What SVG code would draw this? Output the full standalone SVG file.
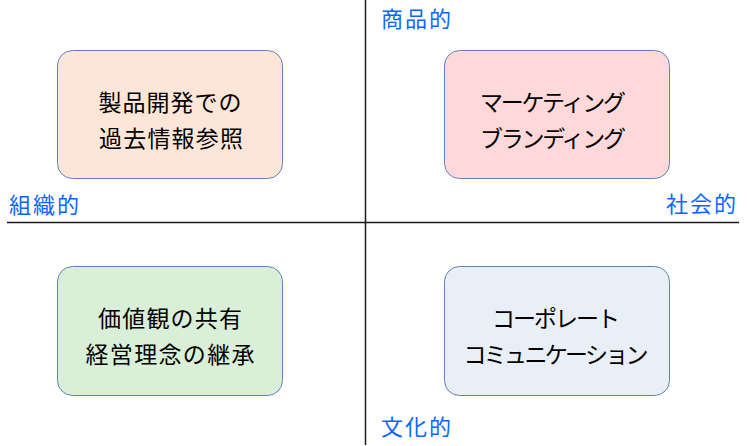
<svg xmlns="http://www.w3.org/2000/svg" width="747" height="446" viewBox="0 0 747 446">
<style>
.box{stroke:#5F82B8;stroke-width:1}
.t{font-family:"Noto Sans CJK JP","Noto Sans",sans-serif;font-size:23px;fill:#000;text-anchor:middle}
.lbl{font-family:"Noto Sans CJK JP","Noto Sans",sans-serif;font-size:22px;fill:#0A66FF;letter-spacing:2px}
.axis{stroke:#1a1a1a;stroke-width:1.5;fill:none}
</style>
<rect width="747" height="446" fill="#fff"/>
<g id="connectors">
<line class="axis" x1="365.5" y1="0" x2="365.5" y2="445"/>
<line class="axis" x1="7" y1="222.5" x2="739" y2="222.5"/>
</g>
<g id="node-tl">
<rect class="box" x="57.5" y="50.5" width="225" height="128" rx="15" fill="#FDE6D8"/>
<text class="t" x="170" y="111" textLength="143" lengthAdjust="spacing">製品開発での</text>
<text class="t" x="171" y="147" textLength="144" lengthAdjust="spacing">過去情報参照</text>
</g>
<g id="node-tr">
<rect class="box" x="444.5" y="50.5" width="225" height="128" rx="15" fill="#FFD9D9"/>
<text class="t" x="553" y="111" textLength="146" lengthAdjust="spacing">マーケティング</text>
<text class="t" x="553" y="147" textLength="146" lengthAdjust="spacing">ブランディング</text>
</g>
<g id="node-bl">
<rect class="box" x="57.5" y="266.5" width="225" height="129" rx="15" fill="#DAEFD7"/>
<text class="t" x="170" y="327" textLength="144" lengthAdjust="spacing">価値観の共有</text>
<text class="t" x="170" y="363" textLength="169" lengthAdjust="spacing">経営理念の継承</text>
</g>
<g id="node-br">
<rect class="box" x="444.5" y="266.5" width="225" height="129" rx="15" fill="#E9EFF7"/>
<text class="t" x="556" y="327" textLength="128" lengthAdjust="spacing">コーポレート</text>
<text class="t" x="556" y="363" textLength="185" lengthAdjust="spacing">コミュニケーション</text>
</g>
<g id="labels">
<text class="lbl" x="381" y="27">商品的</text>
<text class="lbl" x="738" y="212" text-anchor="end">社会的</text>
<text class="lbl" x="9" y="213">組織的</text>
<text class="lbl" x="381" y="435">文化的</text>
</g>
</svg>
